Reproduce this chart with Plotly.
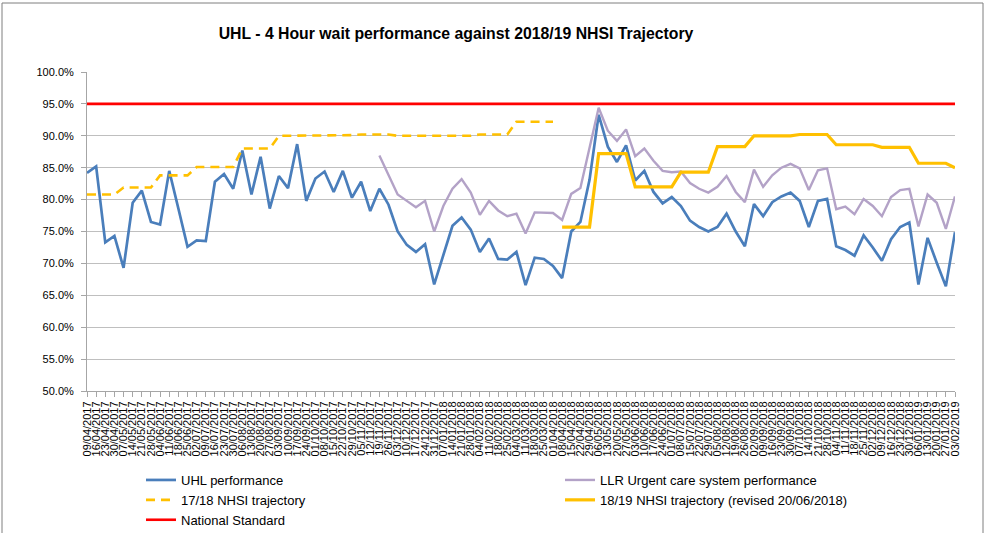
import pandas as pd
import plotly.graph_objects as go

# ---- data ----
week_labels = list(pd.date_range("2017-04-09", periods=96, freq="7D").strftime("%d/%m/%Y"))

uhl_performance = [
    84.2, 85.2, 73.3, 74.3, 69.3, 79.5, 81.4, 76.5, 76.1, 84.5,
    78.6, 72.6, 73.6, 73.5, 82.8, 84.0, 81.7, 87.7, 80.8, 86.7,
    78.6, 83.7, 81.8, 88.7, 79.8, 83.3, 84.4, 81.2, 84.5, 80.3,
    82.8, 78.2, 81.7, 79.2, 75.0, 72.9, 71.8, 73.0, 66.7, 71.4,
    75.9, 77.2, 75.3, 71.8, 73.9, 70.7, 70.6, 71.8, 66.6, 70.9,
    70.7, 69.6, 67.7, 75.0, 76.5, 83.1, 93.3, 88.3, 85.9, 88.5,
    83.0, 84.5, 81.2, 79.4, 80.4, 79.0, 76.7, 75.7, 75.0, 75.7,
    77.8, 75.0, 72.7, 79.3, 77.4, 79.6, 80.5, 81.1, 79.8, 75.7,
    79.8, 80.1, 72.7, 72.1, 71.2, 74.4, 72.5, 70.4, 73.8, 75.7,
    76.4, 66.7, 74.0, 70.1, 66.4, 74.9,
]

llr_performance = [None] * 32 + [
    86.9, 83.8, 80.8, 79.8, 78.8, 79.8, 75.0, 79.0,
    81.7, 83.2, 81.1, 77.6, 79.8, 78.3, 77.4, 77.8, 74.7, 78.0,
    77.9, 77.9, 76.8, 80.9, 81.8, 88.0, 94.4, 90.8, 89.2, 91.0,
    86.8, 88.0, 86.1, 84.5, 84.3, 84.4, 82.6, 81.7, 81.1, 82.0,
    83.7, 81.2, 79.6, 84.7, 82.0, 83.8, 85.0, 85.6, 84.9, 81.5,
    84.6, 84.9, 78.5, 78.9, 77.7, 80.1, 79.0, 77.4, 80.4, 81.5,
    81.7, 75.8, 80.8, 79.5, 75.4, 80.5,
]

trajectory_1718 = (
    [80.8] * 4 + [81.9] * 4 + [83.8] * 4 + [85.1] * 5 + [88.0] * 4
    + [90.0] * 5 + [90.1] * 4 + [90.2] * 4 + [90.0] * 9 + [90.2] * 4
    + [92.2] * 5 + [None] * 44
)

trajectory_1819 = (
    [None] * 52 + [75.7] * 4 + [87.2] * 4 + [82.0] * 5 + [84.3] * 4
    + [88.3] * 4 + [90.0] * 5 + [90.2] * 4 + [88.6] * 5 + [88.2] * 4
    + [85.7] * 4 + [85.0] * 1
)

national_standard = [95.0] * 96

y_tick_vals = [50, 55, 60, 65, 70, 75, 80, 85, 90, 95, 100]
y_tick_text = ["50.0%", "55.0%", "60.0%", "65.0%", "70.0%", "75.0%",
               "80.0%", "85.0%", "90.0%", "95.0%", "100.0%"]

series_names = ["UHL performance", "LLR Urgent care system performance",
                "17/18 NHSI trajectory", "18/19 NHSI trajectory (revised 20/06/2018)",
                "National Standard"]

title_text = "UHL - 4 Hour wait performance against 2018/19 NHSI Trajectory"

# ---- figure ----
fig = go.Figure()
fig.add_trace(go.Scatter(x=week_labels, y=uhl_performance, mode="lines",
                         name=series_names[0], line=dict(color="#4A7EBB", width=2.7),
                         legend="legend"))
fig.add_trace(go.Scatter(x=week_labels, y=llr_performance, mode="lines",
                         name=series_names[1], line=dict(color="#B3A2C7", width=2.4),
                         legend="legend2"))
fig.add_trace(go.Scatter(x=week_labels, y=trajectory_1718, mode="lines",
                         name=series_names[2],
                         line=dict(color="#FFC000", width=2.6, dash="9px,6px"),
                         legend="legend"))
fig.add_trace(go.Scatter(x=week_labels, y=trajectory_1819, mode="lines",
                         name=series_names[3], line=dict(color="#FFC000", width=3.2),
                         legend="legend2"))
fig.add_trace(go.Scatter(x=week_labels, y=national_standard, mode="lines",
                         name=series_names[4], line=dict(color="#FF0000", width=2.6),
                         legend="legend"))

W, H = 986, 533
L, R, T, B = 87, 955, 72, 391
pw, ph = R - L, B - T


def px_x(x):
    return (x - L) / pw


def px_y(y):
    return (B - y) / ph


font_family = "Liberation Sans, Arial, sans-serif"
legend_font = dict(family=font_family, size=13, color="#000000")

fig.update_layout(
    width=W, height=H,
    margin=dict(l=L, r=W - R, t=T, b=H - B, autoexpand=False),
    paper_bgcolor="white", plot_bgcolor="white",
    title=dict(text="<b>" + title_text + "</b>", x=456 / W, xref="container", xanchor="center",
               y=1 - 33 / H, yref="container", yanchor="middle",
               font=dict(family=font_family, size=15.8, color="#000000")),
    xaxis=dict(type="category", range=[0, 95], tickmode="linear", tick0=0, dtick=1,
               tickangle=-90, tickfont=dict(family=font_family, size=11, color="#000000"),
               showgrid=False, showline=True, linecolor="#A6A6A6", linewidth=1,
               ticks="outside", ticklen=5, tickcolor="#A6A6A6", automargin=False),
    yaxis=dict(range=[50, 100], tickmode="array", tickvals=y_tick_vals, ticktext=y_tick_text,
               tickfont=dict(family=font_family, size=11, color="#000000"),
               showgrid=True, gridcolor="#BFBFBF", gridwidth=1,
               showline=True, linecolor="#A6A6A6", linewidth=1, zeroline=False,
               ticks="outside", ticklen=5, tickcolor="#A6A6A6", ticklabelstandoff=5,
               automargin=False),
    legend=dict(x=px_x(141), y=px_y(465), xanchor="left", yanchor="top",
                orientation="v", font=legend_font, itemwidth=30, tracegroupgap=0,
                bgcolor="rgba(0,0,0,0)"),
    legend2=dict(x=px_x(560), y=px_y(465), xanchor="left", yanchor="top",
                 orientation="v", font=legend_font, itemwidth=30, tracegroupgap=0,
                 bgcolor="rgba(0,0,0,0)"),
    shapes=[dict(type="rect", xref="paper", yref="paper",
                 x0=px_x(2), x1=px_x(983), y0=px_y(545), y1=px_y(3),
                 line=dict(color="#7F7F7F", width=1), fillcolor="rgba(0,0,0,0)", layer="below")],
    showlegend=True,
)

fig.write_html("out.html", config={"displayModeBar": False},
               post_script="document.body.style.margin='0px';")
